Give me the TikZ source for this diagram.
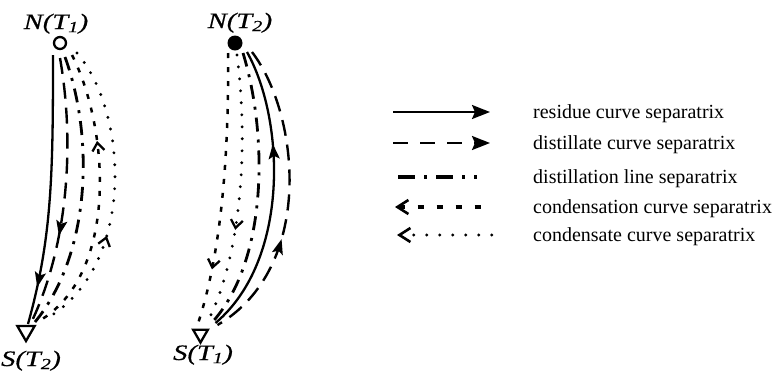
\documentclass[tikz,border=0pt]{standalone}
\usepackage{fontspec}
\setmainfont{Liberation Serif}
\newfontfamily\lblfont[FakeStretch=1.3,FakeBold=0.6]{Liberation Serif}
\usetikzlibrary{arrows.meta,decorations.markings,shapes.geometric,calc}
\begin{document}
\begin{tikzpicture}[x=1pt,y=-1pt,
  resid/.style={line width=2.3pt},
  distc/.style={line width=2.4pt,dash pattern=on 16pt off 9pt},
  dline/.style={line width=2.8pt,dash pattern=on 14pt off 8pt on 3pt off 8pt},
  cndn/.style={line width=2.5pt,dash pattern=on 5pt off 9pt},
  cndt/.style={line width=3.2pt,line cap=round,dash pattern=on 0pt off 12pt},
  fillfwd/.style={postaction={decorate,decoration={markings,mark=at position #1 with {\arrow{Stealth[length=15pt,width=11pt,inset=3pt]}}}}},
  fillbck/.style={postaction={decorate,decoration={markings,mark=at position #1 with {\arrowreversed{Stealth[length=15pt,width=11pt,inset=3pt]}}}}},
  openfwd/.style={postaction={decorate,decoration={markings,mark=at position #1 with {\arrow[line width=2.3pt,line cap=butt]{Straight Barb[length=8pt,width=12pt]}}}}},
  openbck/.style={postaction={decorate,decoration={markings,mark=at position #1 with {\arrowreversed[line width=2.3pt,line cap=butt]{Straight Barb[length=8pt,width=12pt]}}}}},
  tri/.style={regular polygon,regular polygon sides=3,shape border rotate=180,draw,line width=2.3pt,inner sep=0pt},
  lbl/.style={anchor=base,inner sep=0pt,font=\fontsize{22}{24}\lblfont\itshape},
  legtxt/.style={anchor=base west,inner sep=0pt,font=\fontsize{20}{24}\selectfont}
]
\useasboundingbox (0,0) rectangle (777,376);

% left diagram
\node[circle,draw,line width=2.3pt,minimum size=12pt,inner sep=0pt] (n1) at (60,43) {};
\node[tri,minimum size=20pt] (s2) at (26,331) {};
\node[lbl] (n1l) at (56,29) {N(T\textsubscript{1})};
\node[lbl] (s2l) at (31,366) {S(T\textsubscript{2})};

\draw[resid,fillfwd=0.86] ($(n1)+(-7,12)$) .. controls (53,175) and (52,238) .. ($(s2)+(2,-7)$);
\draw[distc,fillfwd=0.66] ($(n1)+(0,15)$) .. controls (76,150) and (66,250) .. ($(s2)+(5,-8)$);
\draw[dline] ($(n1)+(5,14)$) .. controls (95,140) and (90,255) .. ($(s2)+(9,-9)$);
\draw[cndn,openbck=0.31] ($(n1)+(12,12)$) .. controls (110,130) and (118,275) .. ($(s2)+(13,-10)$);
\draw[cndt,openbck=0.64] ($(n1)+(17,10)$) .. controls (130,115) and (135,270) .. ($(s2)+(18,-11)$);

% right diagram
\node[circle,fill,minimum size=15pt,inner sep=0pt] (n2) at (235,43) {};
\node[tri,minimum size=17pt] (s1) at (200.5,334) {};
\node[lbl] (n2l) at (240,28) {N(T\textsubscript{2})};
\node[lbl] (s1l) at (203,360) {S(T\textsubscript{1})};

\draw[cndn,openfwd=0.8] ($(n2)+(-7,10)$) .. controls (229,150) and (222,250) .. ($(s1)+(-2,-12)$);
\draw[cndt,openfwd=0.65] ($(n2)+(2,12)$) .. controls (248,140) and (243,250) .. ($(s1)+(8,-14)$);
\draw[dline] ($(n2)+(8,10)$) .. controls (268,135) and (268,260) .. ($(s1)+(12,-12)$);
\draw[resid,fillbck=0.33] ($(n2)+(12,9)$) .. controls (285,120) and (290,260) .. ($(s1)+(15,-11)$);
\draw[distc,fillbck=0.64] ($(n2)+(17,9)$) .. controls (300,115) and (315,268) .. ($(s1)+(17,-9)$);

% legend
\coordinate (a1) at (393,112); \coordinate (b1) at (490,112);
\coordinate (a2) at (393,143); \coordinate (b2) at (490,143);
\coordinate (a3) at (398,177); \coordinate (b3) at (477,177);
\coordinate (a4) at (395,207); \coordinate (b4) at (481,207);
\coordinate (a5) at (397,235); \coordinate (b5) at (493,235);
\draw[resid,-{Stealth[length=18pt,width=14pt,inset=3pt]}] (a1) -- (b1);
\draw[distc,dash pattern=on 15pt off 12pt,-{Stealth[length=18pt,width=14pt,inset=3pt]}] (a2) -- (b2);
\draw[line width=3.6pt,dash pattern=on 17pt off 9pt on 3pt off 9pt on 17pt off 9pt on 3pt off 9pt on 3pt off 20pt] (a3) -- (b3);
\draw[line width=3.2pt,dash pattern=on 6.5pt off 12.5pt,{Straight Barb[length=11pt,width=14pt,line width=2.6pt]}-] (a4) -- (b4);
\draw[cndt,dash pattern=on 0pt off 13pt,{Straight Barb[length=11pt,width=14pt,line width=2.6pt,line cap=butt]}-] (a5) -- (b5);
\node[legtxt] (t1) at (533,118) {residue curve separatrix};
\node[legtxt] (t2) at (533,149) {distillate curve separatrix};
\node[legtxt] (t3) at (533,183) {distillation line separatrix};
\node[legtxt] (t4) at (533,213) {condensation curve separatrix};
\node[legtxt] (t5) at (533,241) {condensate curve separatrix};
\end{tikzpicture}
\end{document}
